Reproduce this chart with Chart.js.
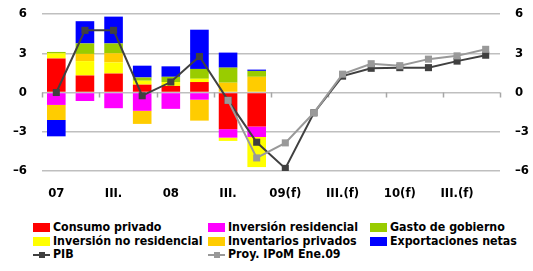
<!DOCTYPE html>
<html>
<head>
<meta charset="utf-8">
<script src="https://cdn.jsdelivr.net/npm/chart.js@4.4.1/dist/chart.umd.min.js"></script>
<style>
    body { margin: 0; background: #fff; }
    #wrap { position: relative; width: 533px; height: 205px; }
    #legend {
        position: absolute;
        left: 0;
        top: 220px;
        width: 533px;
        font-family: "DejaVu Sans Condensed", "DejaVu Sans", sans-serif;
        font-weight: bold;
        font-size: 12.3px;
        color: #000;
    }
    .item { position: absolute; height: 14px; line-height: 14px; white-space: nowrap; }
    .box { display: inline-block; width: 17px; height: 9px; margin-right: 3px; vertical-align: -1px; }
    .ln { display: inline-block; position: relative; width: 17px; height: 9px; margin-right: 3px; vertical-align: -1px; }
    .ln i { position: absolute; left: 0; top: 4px; width: 17px; height: 2px; }
    .ln b { position: absolute; left: 6px; top: 2px; width: 6px; height: 6px; }
</style>
</head>
<body>
<div id="wrap"><canvas id="chart"></canvas></div>
<div id="legend"></div>
<script>
// quarters 2007 I .. 2010 IV, label only every other quarter
const xLabels = ["07", "", "III.", "", "08", "", "III.", "", "09(f)", "", "III.(f)", "", "10(f)", "", "III.(f)", ""];

// contributions to growth (pp), 8 quarters with data
const consumo = [2.6, 1.3, 1.45, 0.6, 0.5, 0.8, -2.8, -2.6];
const invRes = [-0.95, -0.65, -1.2, -1.4, -1.25, -0.55, -0.65, -0.8];
const invNoRes = [0.4, 1.1, 0.85, 0.3, 0.3, 0.25, -0.25, -2.3];
const inventarios = [-1.15, 0.55, 0.7, -1.0, 0, -1.6, 0.75, 1.2];
const gasto = [0.1, 0.8, 0.75, 0.25, 0.4, 0.75, 1.15, 0.45];
const exportNetas = [-1.25, 1.7, 2.05, 0.9, 0.8, 3.0, 1.15, 0.1];

const pib = [0, 4.75, 4.75, -0.25, 0.8, 2.75, -0.6, -3.8, -5.8, -1.55, 1.25, 1.85, 1.9, 1.9, 2.4, 2.85];
const proy = [null, null, null, null, null, null, -0.6, -5.0, -3.85, -1.55, 1.4, 2.2, 2.05, 2.55, 2.8, 3.3];

const yTicks = [-6, -3, 0, 3, 6];

const legendOrder = [
    "Consumo privado", "Inversión residencial", "Gasto de gobierno",
    "Inversión no residencial", "Inventarios privados", "Exportaciones netas",
    "PIB", "Proy. IPoM Ene.09"
];

function barSet(label, data, color) {
    return {
        type: "bar",
        label: label,
        data: data,
        backgroundColor: color,
        borderWidth: 0,
        stack: "comp",
        order: 2,
        barPercentage: 1,
        categoryPercentage: 0.65,
    };
}

function lineSet(label, data, color, order) {
    return {
        type: "line",
        label: label,
        data: data,
        borderColor: color,
        backgroundColor: color,
        borderWidth: 2,
        pointStyle: "rect",
        pointRadius: 5,
        pointBorderWidth: 0,
        stack: label,
        order: order,
        spanGaps: false,
    };
}

// small tick marks under the zero line, every two quarters
const zeroTicks = {
    id: "zeroTicks",
    beforeDatasetsDraw(chart) {
        const xs = chart.scales.x;
        const y0 = chart.scales.y.getPixelForValue(0);
        const step = (xs.right - xs.left) / xLabels.length;
        const ctx = chart.ctx;
        ctx.save();
        ctx.strokeStyle = "#A6A6A6";
        ctx.lineWidth = 1.5;
        ctx.beginPath();
        for (let i = 0; i <= xLabels.length; i += 2) {
            const x = Math.round(xs.left + i * step) + 0.5;
            ctx.moveTo(x, y0);
            ctx.lineTo(x, y0 + 5);
        }
        ctx.stroke();
        ctx.restore();
    },
};

const tickFont = { family: "'DejaVu Sans Condensed', 'DejaVu Sans', sans-serif", weight: "bold", size: 13 };
const gridGray = "#BFBFBF";

function noPad(s) {
    s.paddingTop = 0;
    s.paddingBottom = 0;
}

const chart = new Chart("chart", {
    data: {
        labels: xLabels,
        datasets: [
            barSet("Consumo privado", consumo, "#FF0000"),
            barSet("Inversión residencial", invRes, "#FF00FF"),
            barSet("Inversión no residencial", invNoRes, "#FFFF00"),
            barSet("Inventarios privados", inventarios, "#FFCC00"),
            barSet("Gasto de gobierno", gasto, "#99CC00"),
            barSet("Exportaciones netas", exportNetas, "#0000FF"),
            lineSet("PIB", pib, "#404040", 1),
            lineSet("Proy. IPoM Ene.09", proy, "#999999", 0),
        ],
    },
    options: {
        responsive: true,
        maintainAspectRatio: false,
        animation: false,
        layout: { padding: { top: 14, bottom: 4, left: 0, right: 0 } },
        plugins: { legend: { display: false }, tooltip: { enabled: false } },
        scales: {
            x: {
                type: "category",
                stacked: true,
                offset: true,
                afterFit: (s) => { s.height = 30; },
                grid: { display: false },
                border: { display: false },
                ticks: {
                    autoSkip: false,
                    maxRotation: 0,
                    padding: 7,
                    color: "#000",
                    font: tickFont,
                },
            },
            y: {
                stacked: true,
                min: -6,
                max: 6,
                afterFit: (s) => { s.width = 42; noPad(s); },
                afterBuildTicks: (s) => { s.ticks = yTicks.map((v) => ({ value: v })); },
                grid: { color: gridGray, lineWidth: 1.5, drawTicks: false },
                border: { display: false },
                ticks: {
                    padding: 15,
                    color: "#000",
                    font: tickFont,
                    callback: (v) => (v < 0 ? "–" + Math.abs(v) : String(v)),
                },
            },
            y2: {
                position: "right",
                min: -6,
                max: 6,
                afterFit: (s) => { s.width = 33; noPad(s); },
                afterBuildTicks: (s) => { s.ticks = yTicks.map((v) => ({ value: v })); },
                grid: { display: false },
                border: { display: false },
                ticks: {
                    padding: 7,
                    color: "#000",
                    font: tickFont,
                    callback: (v) => (v < 0 ? "–" + Math.abs(v) : String(v)),
                },
            },
        },
    },
    plugins: [zeroTicks],
});

// html legend in three columns like the original
const legendDiv = document.getElementById("legend");
const colX = [33, 208, 370];
const rowH = 13.5;
legendOrder.forEach((name, i) => {
    const ds = chart.data.datasets.find((d) => d.label === name);
    const item = document.createElement("div");
    item.className = "item";
    item.style.left = colX[i % 3] + "px";
    item.style.top = Math.floor(i / 3) * rowH + "px";
    let mark;
    if (ds.type === "bar") {
        mark = '<span class="box" style="background:' + ds.backgroundColor + '"></span>';
    } else {
        mark = '<span class="ln"><i style="background:' + ds.borderColor + '"></i><b style="background:' + ds.borderColor + '"></b></span>';
    }
    item.innerHTML = mark + name;
    legendDiv.appendChild(item);
});
</script>
</body>
</html>
